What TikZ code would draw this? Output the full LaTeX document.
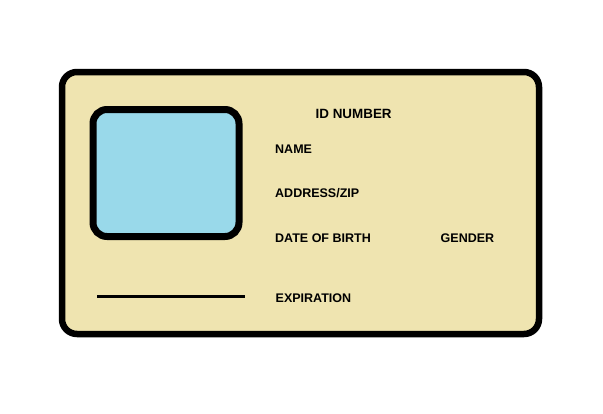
\documentclass[tikz,border=0pt]{standalone}
\usepackage{fontspec}
\setmainfont{Liberation Sans}
\usepackage{xcolor}
\usepackage{tikz}
\definecolor{cardfill}{HTML}{EFE4B0}
\definecolor{photofill}{HTML}{99D9EA}
\definecolor{ink}{HTML}{000000}
\tikzset{
  card/.style={draw=ink, fill=cardfill, line width=6.5pt, rounded corners=15pt},
  photo/.style={draw=ink, fill=photofill, line width=7pt, rounded corners=14pt},
  sig/.style={draw=ink, line width=3pt},
  lab/.style={text=ink, font=\bfseries\fontsize{12.5}{14}\selectfont, anchor=base west, inner sep=0pt},
  labt/.style={lab, font=\bfseries\fontsize{13.4}{15}\selectfont}
}
\begin{document}
\begin{tikzpicture}[x=1pt,y=-1pt]
  \useasboundingbox (0,0) rectangle (603,413);

  \draw[card] (62,72) rectangle (539,334);
  \draw[photo] (93,109.5) rectangle (239,236.5);

  \coordinate (S1) at (97,296);
  \coordinate (S2) at (245,296);
  \draw[sig] (S1)--(S2);

  \node[labt] (idnum) at (315.5,118.3) {ID NUMBER};
  \node[lab] (name) at (275,153.3) {NAME};
  \node[lab] (addr) at (275,197.7) {ADDRESS/ZIP};
  \node[lab] (dob) at (275,242.7) {DATE OF BIRTH};
  \node[lab] (gender) at (440.5,242.7) {GENDER};
  \node[lab] (exp) at (275.5,302.7) {EXPIRATION};
\end{tikzpicture}
\end{document}
